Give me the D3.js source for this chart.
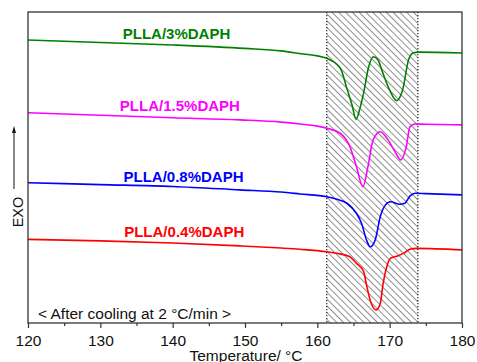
<!DOCTYPE html>
<html>
<head>
<meta charset="utf-8">
<script src="https://cdn.jsdelivr.net/npm/d3@7"></script>
<style>
  body { margin: 0; background: #fff; }
  text { font-family: "Liberation Sans", Arial, sans-serif; }
</style>
</head>
<body>
<div id="chart"></div>
<script>
var width = 477;
var height = 362;

// DSC cooling curves, temperature (C) vs heat flow (arbitrary units, offset)
var green = [[120,9.10],[130,9.02],[140,8.94],[150,8.83],[155,8.75],[158,8.65],[160,8.59],[161.3,8.51],
    [162.5,8.36],[163.3,8.14],[164.06,7.56],[164.8,7.01],[165.35,6.55],[165.9,6.91],[166.4,7.40],
    [167.1,8.24],[167.74,8.56],[168.4,8.46],[168.9,8.14],[170.0,7.49],[170.97,7.15],[171.6,7.36],
    [171.9,7.60],[172.6,8.46],[173.3,8.69],[174,8.71],[180,8.68]];
var magenta = [[120,6.76],[130,6.68],[140,6.60],[149.3,6.53],[155,6.46],[157.6,6.40],[160,6.33],[161.3,6.26],
    [163.1,6.11],[164.5,5.67],[165.4,5.03],[166.3,4.38],[167.0,5.03],[167.7,5.88],[168.7,6.15],
    [169.8,5.88],[171.0,5.40],[171.5,5.24],[172.3,5.67],[172.8,6.31],[173.5,6.40],[175,6.39],[180,6.37]];
var blue = [[120,4.51],[130,4.45],[140,4.39],[149.3,4.28],[155,4.21],[157.6,4.15],[161.3,4.06],[162.7,3.98],
    [164.1,3.85],[165.4,3.53],[166.1,3.21],[166.8,2.67],[167.3,2.45],[168.0,2.67],[168.7,3.42],
    [169.4,3.79],[170.1,3.90],[171.4,3.82],[172.1,3.85],[172.8,4.08],[173.5,4.17],[175,4.16],[180,4.12]];
var red = [[120,2.69],[130,2.64],[140,2.57],[149.3,2.48],[155,2.41],[157.6,2.37],[161.3,2.29],[162.7,2.24],
    [164.5,2.13],[165.4,1.92],[166.4,1.65],[166.8,1.22],[167.3,0.74],[168.1,0.42],[168.7,0.63],
    [169.1,1.28],[169.6,1.81],[170.1,2.08],[171.0,2.15],[171.9,2.24],[172.8,2.37],[173.7,2.40],[180,2.35]];

var seriesNames = ["PLLA/3%DAPH", "PLLA/1.5%DAPH", "PLLA/0.8%DAPH", "PLLA/0.4%DAPH"];
var seriesColors = ["#008000", "#ff00ff", "#0000ff", "#ff0000"];
var seriesData = [green, magenta, blue, red];
// label anchor (temperature, heat flow)
var labelPos = [[133.1, 9.31], [132.7, 6.99], [133.2, 4.70], [133.3, 2.93]];

var majorTicks = [120, 130, 140, 150, 160, 170, 180];
var minorTicks = [125, 135, 145, 155, 165, 175];
var shadeRange = [161.3, 173.9];

var xScale = d3.scaleLinear().domain([120, 180]).range([28, 462]);
var yScale = d3.scaleLinear().domain([0, 10]).range([323, 12]);

var svg = d3.select("#chart").append("svg")
    .attr("width", width)
    .attr("height", height);

var defs = svg.append("defs");
defs.append("pattern")
    .attr("id", "hatch")
    .attr("patternUnits", "userSpaceOnUse")
    .attr("width", 4.8)
    .attr("height", 4.8)
    .attr("patternTransform", "rotate(-45)")
    .append("line")
    .attr("x1", 0).attr("y1", 0)
    .attr("x2", 0).attr("y2", 4.8)
    .attr("stroke", "#333")
    .attr("stroke-width", 1.1);

// shaded crystallization window
var sx0 = xScale(shadeRange[0]), sx1 = xScale(shadeRange[1]);
svg.append("rect")
    .attr("x", sx0).attr("y", yScale(10))
    .attr("width", sx1 - sx0)
    .attr("height", yScale(0) - yScale(10))
    .attr("fill", "url(#hatch)");
svg.selectAll(".edge")
    .data(shadeRange)
    .enter().append("line")
    .attr("class", "edge")
    .attr("x1", function(d) { return xScale(d); })
    .attr("x2", function(d) { return xScale(d); })
    .attr("y1", yScale(10))
    .attr("y2", yScale(0))
    .attr("stroke", "#222")
    .attr("stroke-width", 1.2)
    .attr("stroke-dasharray", "1.2,1.8");

// curves
var line = d3.line()
    .x(function(d) { return xScale(d[0]); })
    .y(function(d) { return yScale(d[1]); })
    .curve(d3.curveMonotoneX);

svg.selectAll(".curve")
    .data(seriesData)
    .enter().append("path")
    .attr("class", "curve")
    .attr("d", line)
    .attr("fill", "none")
    .attr("stroke", function(d, i) { return seriesColors[i]; })
    .attr("stroke-width", 1.6);

svg.selectAll(".lbl")
    .data(seriesNames)
    .enter().append("text")
    .attr("class", "lbl")
    .attr("x", function(d, i) { return xScale(labelPos[i][0]); })
    .attr("y", function(d, i) { return yScale(labelPos[i][1]); })
    .attr("dy", "0.35em")
    .style("font-size", "15px")
    .style("font-weight", "bold")
    .attr("fill", function(d, i) { return seriesColors[i]; })
    .text(function(d) { return d; });

// frame
svg.append("rect")
    .attr("x", 28).attr("y", 12)
    .attr("width", 434).attr("height", 311)
    .attr("fill", "none")
    .attr("stroke", "#333")
    .attr("stroke-width", 1.3);

// x axis
var xAxis = d3.axisBottom(xScale).tickValues(majorTicks).tickSize(5).tickPadding(7);
var xMinor = d3.axisBottom(xScale).tickValues(minorTicks).tickSize(3).tickFormat("");

var gx = svg.append("g")
    .attr("transform", "translate(0," + 323 + ")")
    .call(xAxis);
gx.select(".domain").remove();
gx.selectAll("line").attr("stroke", "#333").attr("stroke-width", 1.2);
gx.selectAll("text")
    .style("font-size", "15.5px")
    .attr("fill", "#111");

var gm = svg.append("g")
    .attr("transform", "translate(0," + 323 + ")")
    .call(xMinor);
gm.select(".domain").remove();
gm.selectAll("line").attr("stroke", "#333").attr("stroke-width", 1.2);

svg.append("text")
    .attr("x", 246)
    .attr("y", 361)
    .attr("text-anchor", "middle")
    .style("font-size", "15.5px")
    .attr("fill", "#111")
    .text("Temperature/ \u00B0C");

svg.append("text")
    .attr("x", 38)
    .attr("y", 318.5)
    .style("font-size", "15.5px")
    .attr("fill", "#111")
    .text("< After cooling at 2 \u00B0C/min >");

// y label with arrow
svg.append("text")
    .attr("transform", "translate(23,212) rotate(-90)")
    .attr("text-anchor", "middle")
    .style("font-size", "14.5px")
    .attr("fill", "#111")
    .text("EXO");

svg.append("line")
    .attr("x1", 14).attr("y1", 189)
    .attr("x2", 14).attr("y2", 132)
    .attr("stroke", "#111")
    .attr("stroke-width", 1);
svg.append("path")
    .attr("d", "M14,126 L12,133 L16,133 Z")
    .attr("fill", "#111");
</script>
</body>
</html>
